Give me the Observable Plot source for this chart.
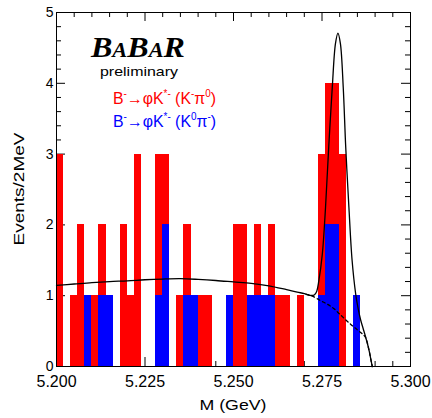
<!DOCTYPE html>
<html>
<head>
<meta charset="utf-8">
<script src="https://cdn.jsdelivr.net/npm/d3@7"></script>
<script src="https://cdn.jsdelivr.net/npm/@observablehq/plot@0.6"></script>
<style>
  html, body { margin: 0; padding: 0; background: #fff; }
  #chart { width: 432px; height: 418px; }
</style>
</head>
<body>
<div id="chart"></div>
<script>
// ---- Data ----
const binStart = 5.200;      // GeV, first bin low edge
const binWidth = 0.002;      // GeV (2 MeV bins)
// Total events per bin (K-pi0 + K0pi-), 50 bins from 5.200 to 5.300
const totalCounts = [3,0,1,2,1,1,2,1,0,2, 1,3,0,0,3,3,0,1,2,1, 1,1,0,0,1,2,2,1,2,1, 2,1,1,0,1,0,0,3,4,4, 3,0,1,0,0,0,0,0,0,0];
// K0 pi- events per bin
const blueCounts  = [0,0,0,0,1,0,1,1,0,0, 0,0,0,0,1,2,0,0,1,1, 0,0,0,0,1,0,0,1,1,1, 1,0,0,0,0,0,0,1,2,2, 0,0,1,0,0,0,0,0,0,0];

// Fit curve (signal + background)
const fitM = [5.200,5.205,5.210,5.215,5.220,5.225,5.230,5.235,5.240,5.245,5.250,5.255,5.260,5.265,5.268,5.270,5.2715,5.2728,5.2735,5.2741,5.2751,5.2760,5.2769,5.2779,5.2788,5.2795,5.2802,5.2810,5.2817,5.2826,5.2835,5.2845,5.2852,5.2859,5.2866,5.2873,5.2882,5.2888,5.2892];
const fitY = [1.145,1.165,1.185,1.200,1.210,1.225,1.235,1.240,1.230,1.215,1.195,1.175,1.140,1.085,1.050,1.030,1.005,1.010,1.060,1.210,1.590,2.250,3.100,3.940,4.560,4.710,4.560,3.940,3.100,2.250,1.500,1.030,0.820,0.660,0.540,0.420,0.250,0.100,0.000];
// Background-only curve (dashed part)
const bkgM = [5.2705,5.2720,5.2746,5.2765,5.2783,5.2800,5.2821,5.2842,5.2864,5.2873,5.2882,5.2888,5.2892];
const bkgY = [1.020,1.000,0.930,0.880,0.820,0.740,0.640,0.550,0.460,0.410,0.250,0.100,0.000];

const xMajor = [5.200,5.225,5.250,5.275,5.300];
const xMinor = [5.205,5.210,5.215,5.220,5.230,5.235,5.240,5.245,5.255,5.260,5.265,5.270,5.280,5.285,5.290,5.295];
const yMajor = [0,1,2,3,4,5];
const yMinor = [0.2,0.4,0.6,0.8,1.2,1.4,1.6,1.8,2.2,2.4,2.6,2.8,3.2,3.4,3.6,3.8,4.2,4.4,4.6,4.8];

// ---- Tables built from arrays ----
const bins = totalCounts.map((c, i) => ({
  x1: +(binStart + binWidth * i).toFixed(3),
  x2: +(binStart + binWidth * (i + 1)).toFixed(3),
  total: c,
  blue: blueCounts[i]
}));
const fit = fitM.map((m, i) => ({m, y: fitY[i]}));
const bkg = bkgM.map((m, i) => ({m, y: bkgY[i]}));

const W = 432, H = 418;
const mL = 56, mR = 22, mT = 12, mB = 52;
const fw = W - mL - mR, fh = H - mT - mB;
const sans = "'Liberation Sans', Arial, Helvetica, sans-serif";

const plot = Plot.plot({
  width: W, height: H,
  marginLeft: mL, marginRight: mR, marginTop: mT, marginBottom: mB,
  style: {background: "#fff", fontFamily: sans, color: "#000"},
  x: {domain: [5.2, 5.3]},
  y: {domain: [0, 5]},
  marks: [
    // inward ticks (bottom / top)
    Plot.tickX(xMajor, {x: d => d, insetTop: fh - 9, stroke: "#000", strokeWidth: 1}),
    Plot.tickX(xMinor, {x: d => d, insetTop: fh - 5, stroke: "#000", strokeWidth: 1}),
    Plot.tickX(xMajor, {x: d => d, insetBottom: fh - 9, stroke: "#000", strokeWidth: 1}),
    Plot.tickX(xMinor, {x: d => d, insetBottom: fh - 5, stroke: "#000", strokeWidth: 1}),
    // inward ticks (left / right)
    Plot.tickY(yMajor, {y: d => d, insetRight: fw - 9, stroke: "#000", strokeWidth: 1}),
    Plot.tickY(yMinor, {y: d => d, insetRight: fw - 5, stroke: "#000", strokeWidth: 1}),
    Plot.tickY(yMajor, {y: d => d, insetLeft: fw - 9, stroke: "#000", strokeWidth: 1}),
    Plot.tickY(yMinor, {y: d => d, insetLeft: fw - 5, stroke: "#000", strokeWidth: 1}),
    // histograms
    Plot.rectY(bins.filter(d => d.total > 0), {x1: "x1", x2: "x2", y1: 0, y2: "total", fill: "#ff0000", inset: 0, shapeRendering: "crispEdges"}),
    Plot.rectY(bins.filter(d => d.blue > 0), {x1: "x1", x2: "x2", y1: 0, y2: "blue", fill: "#0000ff", inset: 0, shapeRendering: "crispEdges"}),
    // fit curves
    Plot.line(bkg, {x: "m", y: "y", stroke: "#000", strokeWidth: 1.3, strokeDasharray: "3,3", curve: "catmull-rom"}),
    Plot.line(fit, {x: "m", y: "y", stroke: "#000", strokeWidth: 1.3, curve: "catmull-rom"}),
    Plot.frame({stroke: "#000", strokeWidth: 1.5}),
    // tick labels
    Plot.axisX({ticks: xMajor, tickFormat: d3.format(".3f"), tickSize: 0, tickPadding: 9, fontSize: 16, label: null}),
    Plot.axisY({ticks: yMajor, tickFormat: d3.format("d"), tickSize: 0, tickPadding: 3, fontSize: 14, label: null})
  ]
});

document.getElementById("chart").appendChild(plot);
const svg = d3.select(plot);
svg.selectAll("rect").attr("shape-rendering", "crispEdges");
const g = svg.append("g").attr("text-anchor", "start").attr("fill", "#000");

// axis titles
g.append("text")
  .attr("x", mL + fw / 2).attr("y", 410)
  .attr("text-anchor", "middle")
  .attr("font-family", sans).attr("font-size", 15)
  .attr("textLength", 67).attr("lengthAdjust", "spacingAndGlyphs")
  .text("M (GeV)");

g.append("text")
  .attr("transform", `translate(23.5,${mT + fh / 2}) rotate(-90)`)
  .attr("text-anchor", "middle")
  .attr("font-family", sans).attr("font-size", 15)
  .attr("textLength", 113).attr("lengthAdjust", "spacingAndGlyphs")
  .text("Events/2MeV");

// BaBar logo
const logo = g.append("text")
  .attr("x", 91).attr("y", 57)
  .attr("text-anchor", "start")
  .attr("font-family", "'Liberation Serif', 'Times New Roman', serif")
  .attr("font-style", "italic").attr("font-weight", "bold")
  .attr("textLength", 94).attr("lengthAdjust", "spacingAndGlyphs");
[["B", 30], ["A", 21], ["B", 30], ["A", 21], ["R", 30]].forEach(([t, s]) =>
  logo.append("tspan").attr("font-size", s).text(t));

g.append("text")
  .attr("x", 100).attr("y", 75.5)
  .attr("text-anchor", "start")
  .attr("font-family", sans).attr("font-size", 13)
  .attr("textLength", 78).attr("lengthAdjust", "spacingAndGlyphs")
  .text("preliminary");

// legend lines with superscripts
function legendLine(y, color, parts) {
  const t = g.append("text")
    .attr("x", 113).attr("y", y)
    .attr("text-anchor", "start")
    .attr("font-family", sans).attr("font-size", 16)
    .attr("textLength", 103).attr("lengthAdjust", "spacingAndGlyphs")
    .attr("fill", color);
  let raised = false;
  parts.forEach(([s, sup]) => {
    const ts = t.append("tspan");
    if (sup) {
      ts.attr("font-size", 10).attr("dy", raised ? 0 : -7);
      raised = true;
    } else {
      ts.attr("font-size", 16).attr("dy", raised ? 7 : 0);
      raised = false;
    }
    ts.text(s);
  });
}
legendLine(103.5, "#ff0000", [["B"], ["-", 1], ["\u2192\u03C6K"], ["*-", 1], [" (K"], ["-", 1], ["\u03C0"], ["0", 1], [")"]]);
legendLine(126.5, "#0000ff", [["B"], ["-", 1], ["\u2192\u03C6K"], ["*-", 1], [" (K"], ["0", 1], ["\u03C0"], ["-", 1], [")"]]);
</script>
</body>
</html>
